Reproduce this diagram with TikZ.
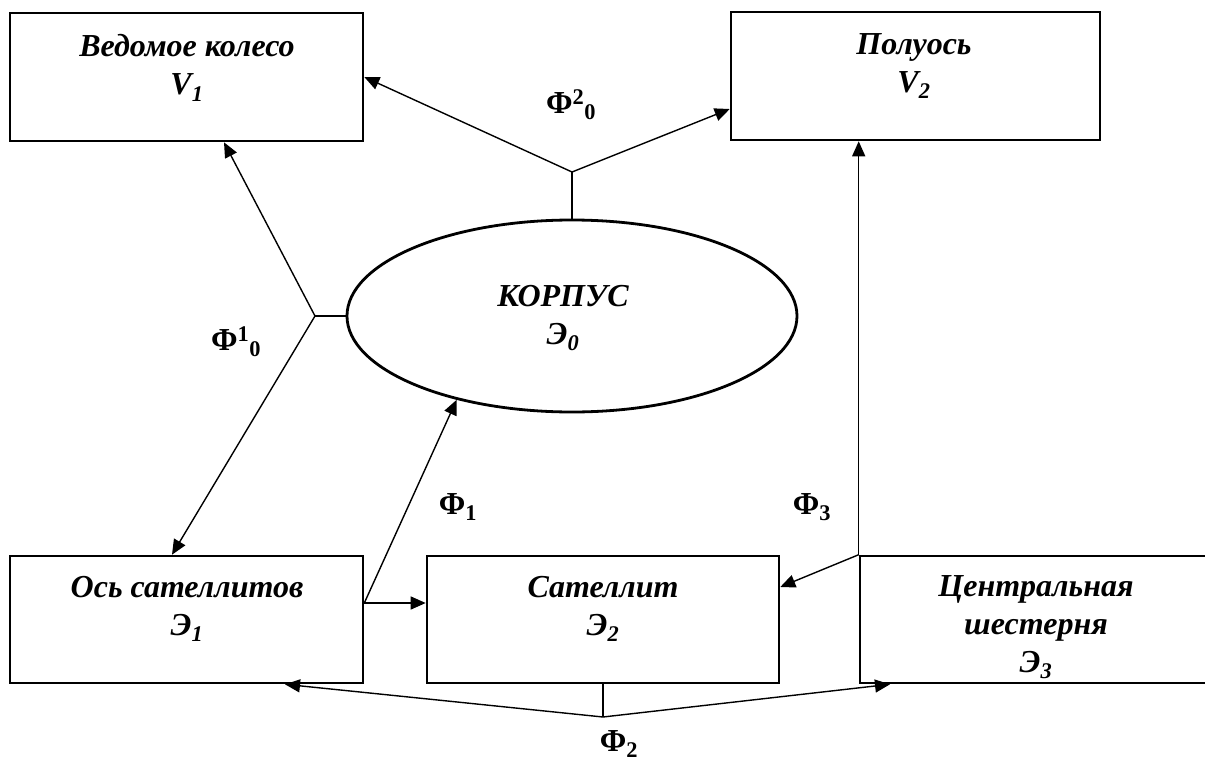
\documentclass[tikz,border=0pt]{standalone}
\usepackage{fontspec}
\setmainfont{Liberation Serif}
\usetikzlibrary{shapes.geometric,arrows.meta}
\tikzset{
  box/.style={draw, line width=2.6pt, rectangle, inner sep=0pt},
  oval/.style={draw, line width=2.8pt, ellipse, inner sep=0pt},
  txt/.style={font=\fontsize{32}{38}\selectfont\bfseries\itshape, align=center, inner sep=0pt},
  phi/.style={font=\fontsize{32}{38}\selectfont\bfseries, inner sep=0pt},
  conn/.style={line width=1.4pt},
  arr/.style={conn, -{Triangle[length=15pt,width=13pt]}}
}
\begin{document}
\begin{tikzpicture}[x=1pt,y=-1pt]
\useasboundingbox (0,0) rectangle (1205,760);
\fill[white] (0,0) rectangle (1205,760);
\clip (0,0) rectangle (1205,760);
% boxes
\node[box, minimum width=353pt, minimum height=128pt] (v1) at (186.5,77) {};
\node[box, minimum width=369pt, minimum height=128pt] (v2) at (915.5,76) {};
\node[box, minimum width=353pt, minimum height=127pt] (os) at (186.5,619.5) {};
\node[box, minimum width=352pt, minimum height=127pt] (sat) at (603,619.5) {};
\node[box, minimum width=352pt, minimum height=127pt] (cg) at (1036,619.5) {};
\node[oval, minimum width=450pt, minimum height=192pt] (e) at (572,316) {};
% texts
\node[txt] (v1t) at (187,68) {Ведомое колесо\\V\textsubscript{1}};
\node[txt] (v2t) at (914,66) {Полуось\\V\textsubscript{2}};
\node[txt] (ost) at (187,609) {Ось сателлитов\\Э\textsubscript{1}};
\node[txt] (satt) at (603,609) {Сателлит\\Э\textsubscript{2}};
\node[txt] (cgt) at (1036,627) {Центральная\\шестерня\\Э\textsubscript{3}};
\node[txt] (et) at (563,318) {КОРПУС\\Э\textsubscript{0}};
% junctions
\coordinate (j1) at (315,316);
\coordinate (j2) at (572,172);
\coordinate (j3) at (603,717);
\coordinate (p1) at (363,603);
% Phi^1_0
\draw[conn] (e.west) -- (j1);
\draw[arr] (j1) -- (224,0 |- v1.south);
\draw[arr] (j1) -- (172,0 |- os.north);
% Phi^2_0
\draw[conn] (e.north) -- (j2);
\draw[arr] (j2) -- (v1.east);
\draw[arr] (j2) -- (v2.west |- 0,109);
% Phi_1
\draw[arr] (os.east |- p1) -- (e.216);
\draw[arr] (os.east |- p1) -- (sat.west |- p1);
% Phi_3
\draw[arr] (cg.north west) -- (cg.north west |- v2.south);
\draw[arr] (cg.north west) -- (sat.east |- 0,587);
% Phi_2
\draw[conn] (sat.south) -- (j3);
\draw[arr] (j3) -- (285,0 |- os.south);
\draw[arr] (j3) -- (890,0 |- cg.south);
% labels
\node[phi] (f20) at (571,105) {Φ\textsuperscript{2}\textsubscript{0}};
\node[phi] (f10) at (236,342) {Φ\textsuperscript{1}\textsubscript{0}};
\node[phi] (f1) at (458,507) {Φ\textsubscript{1}};
\node[phi] (f3) at (812,507) {Φ\textsubscript{3}};
\node[phi] (f2) at (619,744) {Φ\textsubscript{2}};
\end{tikzpicture}
\end{document}
